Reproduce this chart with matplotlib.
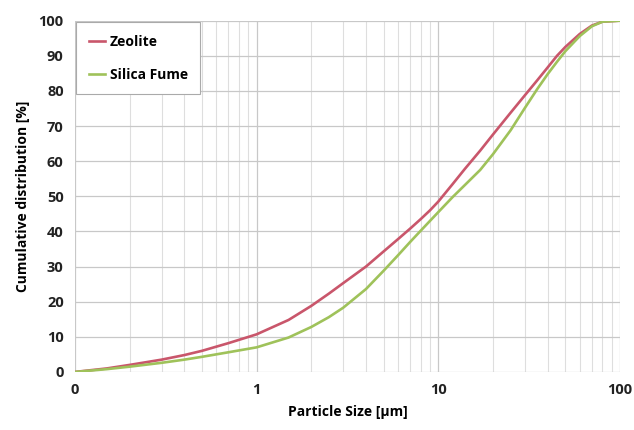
import matplotlib.pyplot as plt
from matplotlib.ticker import FixedLocator, FixedFormatter, LogLocator, NullFormatter

# Particle size distribution
tamanho = [0.1, 0.15, 0.2, 0.3, 0.4, 0.5, 0.7, 1, 1.5, 2, 2.5, 3, 4, 5, 6, 7, 8, 9, 10, 12, 14, 17,
           20, 25, 30, 35, 40, 45, 50, 60, 70, 80, 100]
zeolite = [0, 1.0, 2.0, 3.5, 4.8, 6.0, 8.2, 10.7, 14.8, 18.8, 22.3, 25.3, 30.0, 34.3, 37.8, 40.8, 43.5, 46.0, 48.5, 53.5, 57.8, 63.0,
           67.6, 73.8, 78.8, 83.0, 86.7, 90.0, 92.5, 96.2, 98.6, 99.7, 100]
silica = [0, 0.8, 1.5, 2.6, 3.5, 4.3, 5.6, 7.0, 9.8, 12.8, 15.6, 18.3, 23.6, 28.8, 33.2, 37.0, 40.2, 43.0, 45.5, 49.8, 53.2, 57.5,
          62.0, 68.8, 75.2, 80.5, 84.8, 88.3, 91.3, 95.6, 98.4, 99.7, 100]

x_ticks = [0.1, 1, 10, 100]
x_labels = ["0", "1", "10", "100"]
y_ticks = list(range(0, 101, 10))

plt.rcParams["font.family"] = ["Open Sans", "DejaVu Sans"]

fig = plt.figure(figsize=(6.34, 4.30), dpi=100)
ax = fig.add_axes([0.118, 0.135, 0.860, 0.817])

ax.plot(tamanho, zeolite, color="#c9566b", lw=1.9, label="Zeolite", solid_joinstyle="round")
ax.plot(tamanho, silica, color="#9fc25a", lw=1.9, label="Silica Fume", solid_joinstyle="round")

ax.set_xscale("log")
ax.set_xlim(0.1, 100)
ax.set_ylim(0, 100)

ax.xaxis.set_major_locator(FixedLocator(x_ticks))
ax.xaxis.set_major_formatter(FixedFormatter(x_labels))
ax.xaxis.set_minor_locator(LogLocator(base=10, subs=range(2, 10)))
ax.xaxis.set_minor_formatter(NullFormatter())
ax.set_yticks(y_ticks)

ax.grid(which="major", color="#c8c8c8", lw=0.9)
ax.grid(which="minor", axis="x", color="#dedede", lw=0.8)
ax.set_axisbelow(True)

for lado in ax.spines.values():
    lado.set_visible(False)
ax.tick_params(which="both", length=0)
ax.tick_params(axis="both", labelsize=10.5, pad=8)
for rotulo in ax.get_xticklabels() + ax.get_yticklabels():
    rotulo.set_fontweight("bold")
    rotulo.set_color("#222222")

ax.set_xlabel("Particle Size [µm]", fontsize=10, fontweight="bold", labelpad=6)
ax.set_ylabel("Cumulative distribution [%]", fontsize=10, fontweight="bold", labelpad=6)

leg = ax.legend(loc="upper left", bbox_to_anchor=(0.0, 1.0), fontsize=9.5,
                handlelength=1.2, handletextpad=0.3, labelspacing=1.4,
                borderpad=0.9, borderaxespad=0.1, fancybox=False, framealpha=1,
                edgecolor="#aaaaaa", prop={"weight": "bold", "size": 10})
leg.get_frame().set_linewidth(0.8)

fig.savefig("out.png", dpi=100, facecolor="white")
